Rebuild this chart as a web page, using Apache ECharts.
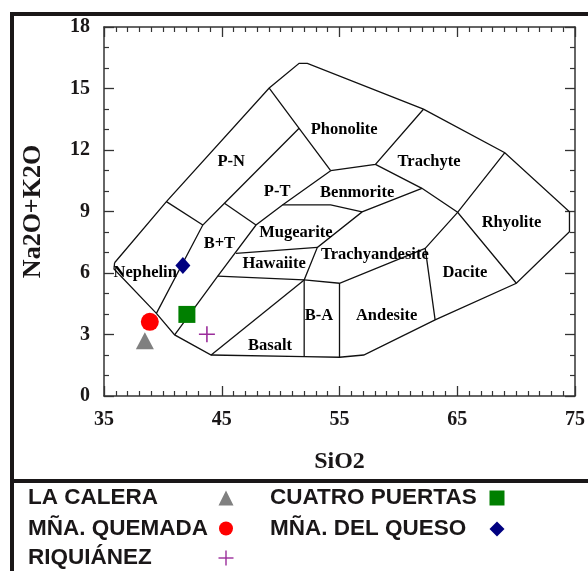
<!DOCTYPE html>
<html>
<head>
<meta charset="utf-8">
<script src="https://cdn.jsdelivr.net/npm/echarts@6/dist/echarts.min.js"></script>
<style>
html,body{margin:0;padding:0;background:#fff;}
#tas{width:588px;height:571px;}
</style>
</head>
<body>
<div id="tas"></div>
<script>
// 外框 (SiO2, Na2O+K2O)
var outline = [[35.9,6.5],[40.3,9.48],[49.03,15.02],[51.57,16.23],[52.27,16.23],[62.13,13.99],[69.04,11.87],
    [74.53,8.99],[74.53,8.01],[70.02,5.5],[63.12,3.71],[57.06,2.0],[55.0,1.89],[52.0,1.92],[44.1,2.0],
    [41.0,2.98],[39.45,4.03],[35.85,6.2],[35.9,6.5]];
// 内部分界线
var fieldLines = [
    [[49.03,15.02],[51.57,13.06],[54.25,10.99]],
    [[54.25,10.99],[58.05,11.3],[62.13,13.99]],
    [[58.05,11.3],[62.0,10.13],[65.03,8.96],[70.02,5.5]],
    [[69.04,11.87],[65.03,8.96],[62.28,7.2],[63.12,3.71]],
    [[62.0,10.13],[56.92,8.98],[53.12,7.25],[52.0,5.66],[52.0,1.92]],
    [[54.25,10.99],[50.16,9.32],[47.91,8.34],[44.66,5.85],[41.0,2.98]],
    [[51.57,13.06],[45.23,9.4],[43.39,8.34],[39.45,4.03]],
    [[40.3,9.48],[43.39,8.34]],
    [[45.23,9.4],[47.91,8.34]],
    [[50.16,9.32],[54.25,9.32],[56.92,8.98]],
    [[46.2,6.96],[53.12,7.25]],
    [[44.66,5.85],[52.0,5.66],[55.0,5.5],[62.28,7.2]],
    [[55.0,5.5],[55.0,1.89]],
    [[44.1,2.0],[52.0,5.66]]
];
// 区域名称
var fieldNames = ['Phonolite','Trachyte','Rhyolite','P-N','P-T','Benmorite','Mugearite','B+T','Hawaiite',
    'Trachyandesite','Nephelin','Dacite','B-A','Andesite','Basalt'];
var fieldX = [55.4, 62.6, 69.6, 45.8, 49.7, 56.5, 51.3, 44.8, 49.45, 58.0, 38.5, 65.65, 53.25, 59.0, 49.1];
var fieldY = [12.98, 11.43, 8.45, 11.43, 9.97, 9.92, 7.94, 7.45, 6.47, 6.91, 5.99, 5.99, 3.9, 3.92, 2.44];

// 样品
var sampleNames = ['LA CALERA','MÑA. QUEMADA','RIQUIÁNEZ','CUATRO PUERTAS','MÑA. DEL QUESO'];
var sampleSiO2 = [38.47, 38.89, 43.74, 42.04, 41.7];
var sampleAlk = [2.7, 3.62, 3.01, 3.98, 6.36];
var sampleColors = ['#808080','#ff0000','#9b2d9b','#007f00','#000080'];
var crossPath = 'path://M9,0h2v20h-2z M0,9h20v2h-20z';
var sampleSymbols = ['triangle','circle',crossPath,'rect','diamond'];
var sampleSizes = [[18,17],18,16,17,[15,17]];

// 轴刻度
var xTicks = [35, 75, 10];
var yTicks = [0, 18, 3];

var serifFont = '"Liberation Serif","Times New Roman",serif';
var sansFont = '"Liberation Sans",Arial,sans-serif';
var ink = '#1a1718';

var chart = echarts.init(document.getElementById('tas'));

var series = [{
    type: 'lines',
    coordinateSystem: 'cartesian2d',
    polyline: true,
    silent: true,
    lineStyle: {color: '#111', width: 1.3, opacity: 1},
    data: [{coords: outline}].concat(fieldLines.map(function(l){ return {coords: l}; }))
}, {
    type: 'scatter',
    silent: true,
    symbolSize: 0,
    itemStyle: {color: '#000', opacity: 1},
    label: {
        show: true, position: 'inside',
        formatter: function(p){ return p.data[2]; },
        fontFamily: serifFont, fontWeight: 'bold', fontSize: 16.5, color: '#000',
        textBorderWidth: 0, textBorderColor: 'transparent', opacity: 1
    },
    z: 3,
    data: fieldNames.map(function(n, i){ return [fieldX[i], fieldY[i], n]; })
}];

sampleNames.forEach(function(n, i){
    series.push({
        type: 'scatter',
        name: n,
        symbol: sampleSymbols[i],
        symbolSize: sampleSizes[i],
        itemStyle: {color: sampleColors[i], opacity: 1},
        z: 4,
        data: [[sampleSiO2[i], sampleAlk[i]]]
    });
});

function axisBase(extra){
    var a = {
        type: 'value',
        min: extra.min, max: extra.max, interval: extra.interval,
        axisLine: {show: true, onZero: false, lineStyle: {color: '#333', width: 1.5}},
        axisTick: {show: true, inside: true, length: 10, lineStyle: {color: '#333', width: 1.3}},
        minorTick: {show: true, splitNumber: extra.split, length: 5, lineStyle: {color: '#333', width: 1.2}},
        splitLine: {show: false},
        axisLabel: {show: false}
    };
    return echarts.util.merge(a, extra.more || {}, true);
}

var labelStyle = {show: true, fontFamily: serifFont, fontWeight: 'bold', fontSize: 20, color: ink, margin: 14};

// 图例
var legendRows = [
    {x: 28, y: 498, mx: 226, idx: 0},
    {x: 28, y: 528.5, mx: 226, idx: 1},
    {x: 28, y: 558, mx: 226, idx: 2},
    {x: 270, y: 498, mx: 497, idx: 3},
    {x: 270, y: 529, mx: 497, idx: 4}
];
var graphics = [
    {type: 'line', shape: {x1: 10, y1: 14, x2: 588, y2: 14}, style: {stroke: ink, lineWidth: 4}},
    {type: 'line', shape: {x1: 12, y1: 12, x2: 12, y2: 571}, style: {stroke: ink, lineWidth: 4}},
    {type: 'line', shape: {x1: 10, y1: 481, x2: 588, y2: 481}, style: {stroke: ink, lineWidth: 4}}
];
legendRows.forEach(function(r){
    graphics.push({
        type: 'text', x: r.x, y: r.y,
        style: {text: sampleNames[r.idx], font: 'bold 22.5px ' + sansFont, fill: ink,
            textVerticalAlign: 'middle', verticalAlign: 'middle'}
    });
    var c = sampleColors[r.idx], s = 7.5, g;
    if (r.idx == 0) {
        g = {type: 'polygon', shape: {points: [[r.mx, r.y - s], [r.mx + s, r.y + s], [r.mx - s, r.y + s]]}, style: {fill: c}};
    } else if (r.idx == 1) {
        g = {type: 'circle', shape: {cx: r.mx, cy: r.y, r: 7}, style: {fill: c}};
    } else if (r.idx == 2) {
        g = {type: 'group', children: [
            {type: 'line', shape: {x1: r.mx - s, y1: r.y, x2: r.mx + s, y2: r.y}, style: {stroke: c, lineWidth: 1.4}},
            {type: 'line', shape: {x1: r.mx, y1: r.y - s, x2: r.mx, y2: r.y + s}, style: {stroke: c, lineWidth: 1.4}}
        ]};
    } else if (r.idx == 3) {
        g = {type: 'rect', shape: {x: r.mx - s, y: r.y - s, width: 2 * s, height: 2 * s}, style: {fill: c}};
    } else {
        g = {type: 'polygon', shape: {points: [[r.mx, r.y - s], [r.mx + s, r.y], [r.mx, r.y + s], [r.mx - s, r.y]]}, style: {fill: c}};
    }
    graphics.push(g);
});

var option = {
    backgroundColor: '#fff',
    animation: false,
    grid: {left: 104, right: 10, top: 27, bottom: 175},
    xAxis: [
        axisBase({min: xTicks[0], max: xTicks[1], interval: xTicks[2], split: 10, more: {
            position: 'bottom', axisLabel: labelStyle,
            name: 'SiO2', nameLocation: 'middle', nameGap: 54,
            nameTextStyle: {fontFamily: serifFont, fontWeight: 'bold', fontSize: 24, color: ink}
        }}),
        axisBase({min: xTicks[0], max: xTicks[1], interval: xTicks[2], split: 10, more: {position: 'top'}})
    ],
    yAxis: [
        axisBase({min: yTicks[0], max: yTicks[1], interval: yTicks[2], split: 3, more: {
            position: 'left', axisLabel: labelStyle,
            name: 'Na2O+K2O', nameLocation: 'middle', nameGap: 58,
            nameTextStyle: {fontFamily: serifFont, fontWeight: 'bold', fontSize: 26, color: ink}
        }}),
        axisBase({min: yTicks[0], max: yTicks[1], interval: yTicks[2], split: 3, more: {position: 'right'}})
    ],
    graphic: graphics,
    series: series
};
chart.setOption(option);
</script>
</body>
</html>
